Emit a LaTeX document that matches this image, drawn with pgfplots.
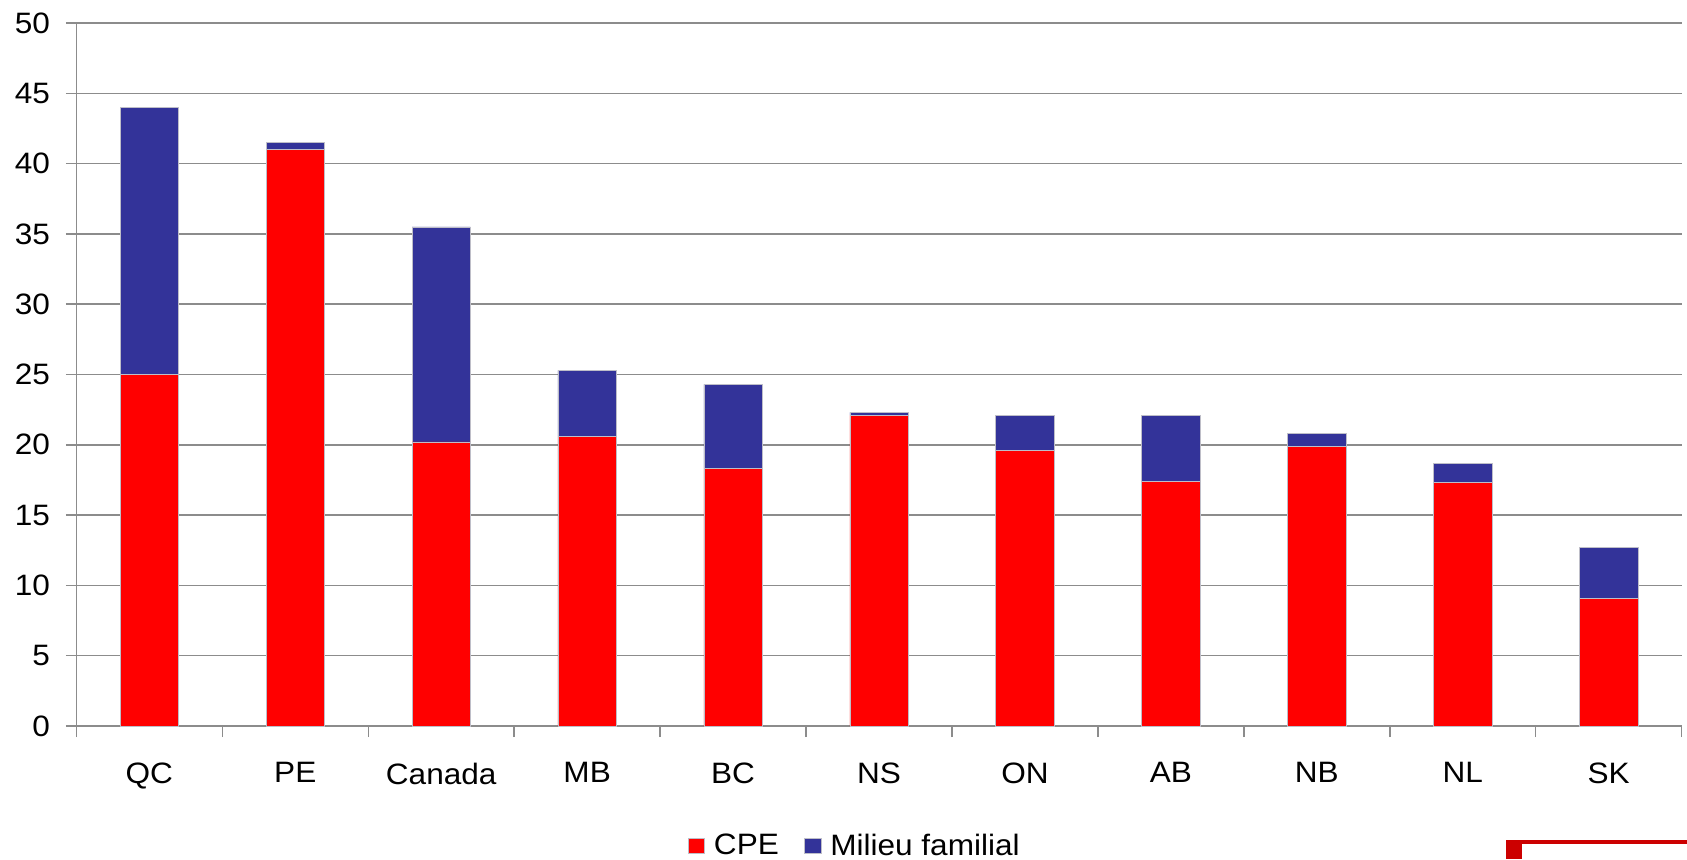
\documentclass[border=0pt]{standalone}
\usepackage{fontspec}
\setmainfont{Liberation Sans}[FakeStretch=1.07]
\usepackage{pgfplots}
\usepackage{pgfplotstable}
\pgfplotsset{compat=1.18}
\definecolor{cpe}{HTML}{FF0000}
\definecolor{mf}{HTML}{333399}
\definecolor{gridc}{HTML}{8C8C8C}
\definecolor{deco}{HTML}{CC0000}
\definecolor{barline}{HTML}{BEBEC8}

% CPE and Milieu familial per province
\pgfplotstableread{
idx cpe  mf
0   25.0 19.0
1   41.0 0.5
2   20.2 15.3
3   20.6 4.7
4   18.3 6.0
5   22.1 0.2
6   19.6 2.5
7   17.4 4.7
8   19.9 0.9
9   17.3 1.4
10  9.1  3.6
}\garde

\begin{document}
\begin{tikzpicture}
\useasboundingbox (0,0) rectangle (843.5pt,429.5pt);
\begin{axis}[
    at={(38.2pt,66.5pt)}, anchor=south west,
    scale only axis, width=802.6pt, height=351.5pt,
    xmin=-0.5, xmax=10.5, ymin=0, ymax=50,
    ybar stacked, bar width=0.4,
    axis x line=bottom, axis y line=left,
    axis line style={-, draw=gridc, line width=0.75pt},
    ytick={0,5,...,50},
    ymajorgrids, grid style={draw=gridc, line width=0.75pt},
    tick align=outside, major tick length=5.3pt,
    tick style={draw=gridc, line width=0.75pt},
    xtick={0,...,10},
    xticklabels={QC,PE,Canada,MB,BC,NS,ON,AB,NB,NL,SK},
    major x tick style={draw=none},
    minor xtick={-0.5,0.5,...,10.5},
    minor tick length=5.5pt,
    ticklabel style={font=\fontsize{14.75}{14.75}\selectfont, text=black},
    /pgf/number format/assume math mode=true,
    xticklabel style={yshift=-9.5pt},
    yticklabel style={xshift=-4.4pt},
    legend style={at={(0.487,-0.1707)}, anchor=center, draw=none,
        font=\fontsize{14.75}{14.75}\selectfont, legend columns=2,
        nodes={inner xsep=4.5pt},
        /tikz/every even column/.append style={column sep=8pt}},
    legend image code/.code={\fill[#1] (0pt,-3.75pt) rectangle (8.4pt,3.75pt);},
]
\addplot[fill=cpe, draw=barline, line width=0.3pt] table[x=idx, y=cpe] {\garde};
\addplot[fill=mf, draw=barline, line width=0.3pt] table[x=idx, y=mf] {\garde};
\legend{CPE, Milieu familial}
\end{axis}
\fill[deco] (753pt,7.5pt) rectangle (843.5pt,9.5pt);
\fill[deco] (753pt,0pt) rectangle (761pt,7.5pt);
\end{tikzpicture}
\end{document}
